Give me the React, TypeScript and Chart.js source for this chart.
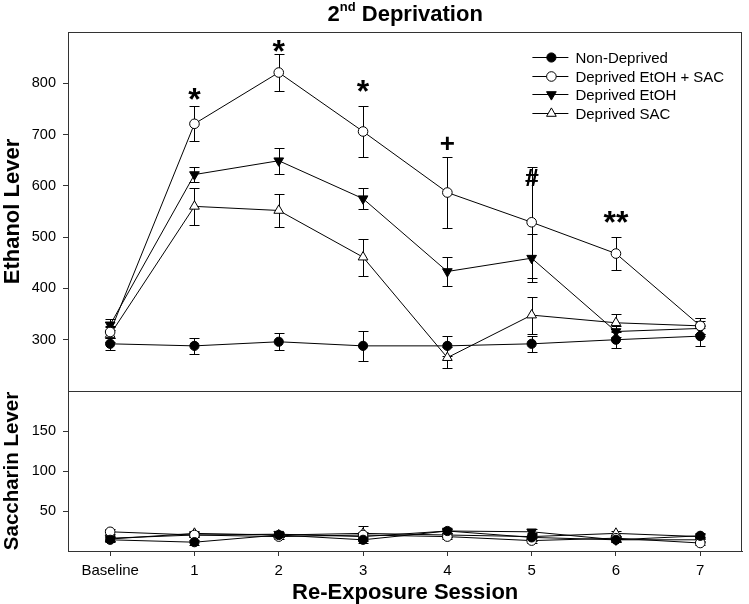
import React, { useEffect, useRef } from 'react';
import { Chart, registerables } from 'chart.js';

Chart.register(...registerables);

const FONT = '"Liberation Sans", Arial, Helvetica, sans-serif';

// ---- data ----
const xLabels = ['Baseline', '1', '2', '3', '4', '5', '6', '7'];
const sessions = [0, 1, 2, 3, 4, 5, 6, 7];
const seriesNames = ['Non-Deprived', 'Deprived EtOH + SAC', 'Deprived EtOH', 'Deprived SAC'];

// Ethanol lever (top panel)
const ethNonDeprived = [292, 288, 296, 288, 288, 292, 300, 307];
const ethNonDeprivedErr = [12, 15, 17, 29, 19, 15, 17, 20];
const ethEtohSac = [315, 721, 821, 706, 587, 529, 468, 327];
const ethEtohSacErr = [12, 34, 37, 50, 70, 108, 33, 15];
const ethEtoh = [329, 622, 649, 575, 433, 459, 316, 322];
const ethEtohErr = [11, 15, 25, 21, 29, 47, 10, 15];
const ethSac = [310, 560, 552, 461, 265, 348, 333, 327];
const ethSacErr = [15, 36, 33, 36, 21, 36, 17, 15];

// Saccharin lever (bottom panel)
const sacNonDeprived = [14, 11, 20, 14, 25, 17, 14, 19];
const sacNonDeprivedErr = [3, 3, 3, 4, 3, 4, 3, 3];
const sacEtohSac = [24, 20, 18, 20, 18, 13, 16, 10];
const sacEtohSacErr = [3, 3, 3, 4, 3, 3, 3, 3];
const sacEtoh = [16, 20, 21, 18, 25, 24, 14, 14];
const sacEtohErr = [3, 3, 3, 4, 3, 4, 3, 3];
const sacSac = [15, 22, 20, 22, 20, 18, 22, 18];
const sacSacErr = [3, 3, 3, 9, 3, 4, 3, 3];

// significance marks (session, label, level on ethanol axis)
const markSessions = [1, 2, 3, 4, 5, 6];
const markLabels = ['*', '*', '*', '+', '#', '**'];
const markLevels = [780, 872, 794, 683, 617, 539];

const ethTicks = [300, 400, 500, 600, 700, 800];
const sacTicks = [50, 100, 150];

// ---- styles ----
const markerStyles = [
  { style: 'circle', rotation: 0, fill: '#000', radius: 4.6 },
  { style: 'circle', rotation: 0, fill: '#fff', radius: 4.8 },
  { style: 'triangle', rotation: 180, fill: '#000', radius: 5.6 },
  { style: 'triangle', rotation: 0, fill: '#fff', radius: 5.6 },
];

const topValues = [ethNonDeprived, ethEtohSac, ethEtoh, ethSac];
const topErrors = [ethNonDeprivedErr, ethEtohSacErr, ethEtohErr, ethSacErr];
const bottomValues = [sacNonDeprived, sacEtohSac, sacEtoh, sacSac];
const bottomErrors = [sacNonDeprivedErr, sacEtohSacErr, sacEtohErr, sacSacErr];

function drawMarker(ctx: CanvasRenderingContext2D, m: any, x: number, y: number) {
  ctx.save();
  ctx.beginPath();
  if (m.style === 'circle') {
    ctx.arc(x, y, m.radius, 0, Math.PI * 2);
  } else {
    let rad = (m.rotation * Math.PI) / 180;
    const r = m.radius;
    ctx.moveTo(x + Math.sin(rad) * r, y - Math.cos(rad) * r);
    rad += (2 * Math.PI) / 3;
    ctx.lineTo(x + Math.sin(rad) * r, y - Math.cos(rad) * r);
    rad += (2 * Math.PI) / 3;
    ctx.lineTo(x + Math.sin(rad) * r, y - Math.cos(rad) * r);
    ctx.closePath();
  }
  ctx.fillStyle = m.fill;
  ctx.fill();
  ctx.strokeStyle = '#000';
  ctx.lineWidth = 1;
  ctx.stroke();
  ctx.restore();
}

const errorBarPlugin = {
  id: 'errorBars',
  beforeDatasetsDraw(chart: any) {
    const ctx = chart.ctx;
    const xs = chart.scales.x;
    ctx.save();
    ctx.strokeStyle = '#000';
    ctx.lineWidth = 1;
    chart.data.datasets.forEach((ds: any) => {
      const errs = ds.errors;
      if (!errs) return;
      const ys = chart.scales[ds.yAxisID];
      ds.data.forEach((pt: any, i: number) => {
        const e = errs[i];
        if (!e) return;
        const px = Math.round(xs.getPixelForValue(pt.x)) + 0.5;
        const y1 = Math.round(ys.getPixelForValue(pt.y + e)) + 0.5;
        const y2 = Math.round(ys.getPixelForValue(pt.y - e)) + 0.5;
        ctx.beginPath();
        ctx.moveTo(px, y1);
        ctx.lineTo(px, y2);
        ctx.moveTo(px - 5, y1);
        ctx.lineTo(px + 5, y1);
        ctx.moveTo(px - 5, y2);
        ctx.lineTo(px + 5, y2);
        ctx.stroke();
      });
    });
    ctx.restore();
  },
};

const framePlugin = {
  id: 'frames',
  afterDraw(chart: any) {
    const ctx = chart.ctx;
    const { left, right } = chart.chartArea;
    ctx.save();
    ctx.strokeStyle = '#333';
    ctx.lineWidth = 1;
    ['y', 'y2'].forEach((id) => {
      const s = chart.scales[id];
      const t = Math.round(s.top) + 0.5;
      const b = Math.round(s.bottom) + 0.5;
      const l = Math.round(left) + 0.5;
      const r = Math.round(right) - 0.5;
      ctx.strokeRect(l, t, r - l, b - t);
    });
    ctx.restore();
  },
};

const marksPlugin = {
  id: 'marks',
  afterDatasetsDraw(chart: any) {
    const ctx = chart.ctx;
    const xs = chart.scales.x;
    const ys = chart.scales.y;
    ctx.save();
    ctx.fillStyle = '#000';
    ctx.textAlign = 'center';
    ctx.textBaseline = 'alphabetic';
    markLabels.forEach((lab, i) => {
      const size = lab.includes('*') ? 32 : lab === '+' ? 26 : 24;
      ctx.font = `bold ${size}px ${FONT}`;
      const m = ctx.measureText(lab);
      const cx = xs.getPixelForValue(markSessions[i]);
      const cy = ys.getPixelForValue(markLevels[i]);
      const base = cy + (m.actualBoundingBoxAscent - m.actualBoundingBoxDescent) / 2;
      ctx.fillText(lab, cx, base);
      if (lab === '#') {
        // slightly heavier hash, as in the reference
        ctx.fillText(lab, cx + 0.6, base);
      }
    });
    ctx.restore();
  },
};

const legendPlugin = {
  id: 'customLegend',
  afterDraw(chart: any) {
    const ctx = chart.ctx;
    const { right, top } = chart.chartArea;
    const x0 = right - 210;
    const y0 = top + 25;
    const rowH = 18.7;
    ctx.save();
    ctx.font = `15px ${FONT}`;
    ctx.fillStyle = '#000';
    ctx.textAlign = 'left';
    ctx.textBaseline = 'middle';
    seriesNames.forEach((name, i) => {
      const y = Math.round(y0 + i * rowH) + 0.5;
      ctx.strokeStyle = '#000';
      ctx.lineWidth = 1;
      ctx.beginPath();
      ctx.moveTo(x0, y);
      ctx.lineTo(x0 + 36, y);
      ctx.stroke();
      drawMarker(ctx, markerStyles[i], x0 + 19, y);
      ctx.fillText(name, x0 + 43, y + 1);
    });
    ctx.restore();
  },
};

const titlePlugin = {
  id: 'mainTitle',
  afterDraw(chart: any) {
    const ctx = chart.ctx;
    const { left, right } = chart.chartArea;
    const cx = (left + right) / 2;
    const baseline = 21;
    ctx.save();
    ctx.fillStyle = '#000';
    ctx.textAlign = 'left';
    ctx.textBaseline = 'alphabetic';
    const big = `bold 22px ${FONT}`;
    const small = `bold 13px ${FONT}`;
    ctx.font = big;
    const w1 = ctx.measureText('2').width;
    const w3 = ctx.measureText(' Deprivation').width;
    ctx.font = small;
    const w2 = ctx.measureText('nd').width;
    let x = cx - (w1 + w2 + w3) / 2;
    ctx.font = big;
    ctx.fillText('2', x, baseline);
    x += w1;
    ctx.font = small;
    ctx.fillText('nd', x, baseline - 10);
    x += w2;
    ctx.font = big;
    ctx.fillText(' Deprivation', x, baseline);
    ctx.restore();
  },
};

function makeDatasets() {
  const top = topValues.map((vals, k) => ({
    label: seriesNames[k],
    data: sessions.map((x, i) => ({ x, y: vals[i] })),
    errors: topErrors[k],
    yAxisID: 'y',
    xAxisID: 'x',
    borderColor: '#000',
    borderWidth: 1,
    pointStyle: markerStyles[k].style,
    pointRotation: markerStyles[k].rotation,
    pointRadius: markerStyles[k].radius,
    pointBackgroundColor: markerStyles[k].fill,
    pointBorderColor: '#000',
    pointBorderWidth: 1,
    tension: 0,
    fill: false,
  }));
  const bottom = bottomValues.map((vals, k) => ({
    label: seriesNames[k] + ' (saccharin)',
    data: sessions.map((x, i) => ({ x, y: vals[i] })),
    errors: bottomErrors[k],
    yAxisID: 'y2',
    xAxisID: 'x',
    borderColor: '#000',
    borderWidth: 1,
    pointStyle: markerStyles[k].style,
    pointRotation: markerStyles[k].rotation,
    pointRadius: markerStyles[k].radius,
    pointBackgroundColor: markerStyles[k].fill,
    pointBorderColor: '#000',
    pointBorderWidth: 1,
    tension: 0,
    fill: false,
  }));
  return [...top, ...bottom];
}

export default function App() {
  const canvasRef = useRef<HTMLCanvasElement | null>(null);

  useEffect(() => {
    document.body.style.margin = '0';
    const canvas = canvasRef.current;
    if (!canvas) return;
    const tickFont = { family: FONT, size: 15 };
    const yTickFont = { family: FONT, size: 14.5 };
    const titleFont = { family: FONT, size: 22, weight: 'bold' as const, lineHeight: 1 };
    const sacTitleFont = { family: FONT, size: 20.5, weight: 'bold' as const, lineHeight: 1 };
    const chart = new Chart(canvas, {
      type: 'line',
      data: { datasets: makeDatasets() as any },
      options: {
        responsive: false,
        animation: false,
        layout: { padding: { top: 32, right: 1, left: 0, bottom: 0 } },
        plugins: {
          legend: { display: false },
          tooltip: { enabled: false },
          title: { display: false },
        },
        scales: {
          x: {
            type: 'linear',
            position: 'bottom',
            min: -0.5,
            max: 7.5,
            afterBuildTicks: (s: any) => {
              s.ticks = sessions.map((v) => ({ value: v }));
            },
            afterFit: (s: any) => {
              s.height = 53;
            },
            ticks: {
              autoSkip: false,
              maxRotation: 0,
              padding: 6,
              color: '#000',
              font: tickFont,
              callback: (v: any) => xLabels[Number(v)] ?? '',
            },
            grid: { drawOnChartArea: false, drawTicks: true, tickLength: 5, tickColor: '#333' },
            border: { color: '#333' },
            title: {
              display: true,
              text: 'Re-Exposure Session',
              color: '#000',
              font: titleFont,
              padding: { top: 0, bottom: 0 },
            },
          },
          y2: {
            type: 'linear',
            position: 'left',
            stack: 'panels',
            stackWeight: 160,
            min: 0,
            max: 200,
            afterBuildTicks: (s: any) => {
              s.ticks = sacTicks.map((v) => ({ value: v }));
            },
            afterFit: (s: any) => {
              s.width = 68;
            },
            ticks: { padding: 7, color: '#000', font: yTickFont },
            grid: { drawOnChartArea: false, drawTicks: true, tickLength: 5, tickColor: '#333' },
            border: { color: '#333' },
            title: {
              display: true,
              text: 'Saccharin Lever',
              color: '#000',
              font: sacTitleFont,
              padding: { top: 2.5, bottom: 0 },
            },
          },
          y: {
            type: 'linear',
            position: 'left',
            stack: 'panels',
            stackWeight: 359,
            min: 200,
            max: 900,
            afterBuildTicks: (s: any) => {
              s.ticks = ethTicks.map((v) => ({ value: v }));
            },
            afterFit: (s: any) => {
              s.width = 68;
            },
            ticks: { padding: 7, color: '#000', font: yTickFont },
            grid: { drawOnChartArea: false, drawTicks: true, tickLength: 5, tickColor: '#333' },
            border: { color: '#333' },
            title: {
              display: true,
              text: 'Ethanol Lever',
              color: '#000',
              font: titleFont,
              padding: { top: 2, bottom: 0 },
            },
          },
        } as any,
      },
      plugins: [errorBarPlugin, framePlugin, marksPlugin, legendPlugin, titlePlugin],
    });
    return () => chart.destroy();
  }, []);

  return (
    <div style={{ position: 'fixed', left: 0, top: 0, width: 749, height: 604, background: '#fff' }}>
      <canvas ref={canvasRef} width={749} height={604} style={{ display: 'block' }} />
    </div>
  );
}
